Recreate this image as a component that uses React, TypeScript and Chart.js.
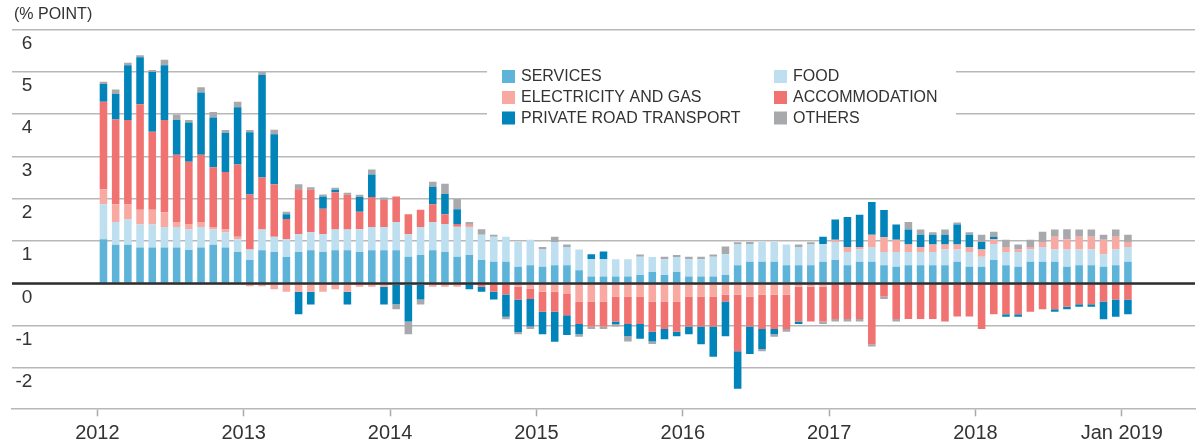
import React, { useEffect, useRef } from 'react';
import { Chart, registerables } from 'chart.js';

Chart.register(...registerables);

const FONT = "'Liberation Sans', Arial, sans-serif";
const TEXT = '#333333';

// Year tick labels (one per January) and y-axis tick values
const yearLabels = ['2012', '2013', '2014', '2015', '2016', '2017', '2018', 'Jan 2019'];
const yTickValues = [-2, -1, 0, 1, 2, 3, 4, 5, 6];

// Months: Jan 2012 .. Jan 2019 (85 bars)
const months: string[] = [];
['2012', '2013', '2014', '2015', '2016', '2017', '2018'].forEach((y) => {
  ['Jan', 'Feb', 'Mar', 'Apr', 'May', 'Jun', 'Jul', 'Aug', 'Sep', 'Oct', 'Nov', 'Dec'].forEach((m) => months.push(m + ' ' + y));
});
months.push('Jan 2019');

const services = [
  1.04, 0.91, 0.91, 0.85, 0.85, 0.85, 0.85, 0.79, 0.85, 0.91, 0.85, 0.74,
  0.55, 0.78, 0.74, 0.62, 0.74, 0.78, 0.74, 0.78, 0.78, 0.74, 0.78, 0.78,
  0.78, 0.63, 0.67, 0.78, 0.74, 0.63, 0.67, 0.55, 0.51, 0.51, 0.39, 0.43,
  0.39, 0.43, 0.43, 0.31, 0.16, 0.16, 0.16, 0.16, 0.20, 0.27, 0.20, 0.27,
  0.16, 0.16, 0.16, 0.20, 0.43, 0.51, 0.51, 0.51, 0.43, 0.43, 0.43, 0.51,
  0.55, 0.43, 0.51, 0.51, 0.43, 0.39, 0.43, 0.43, 0.43, 0.43, 0.51, 0.39,
  0.39, 0.55, 0.43, 0.39, 0.51, 0.51, 0.51, 0.39, 0.43, 0.43, 0.39, 0.43,
  0.51,
];
const food = [
  0.83, 0.54, 0.60, 0.54, 0.54, 0.48, 0.48, 0.49, 0.48, 0.37, 0.36, 0.30,
  0.25, 0.49, 0.36, 0.42, 0.42, 0.43, 0.42, 0.49, 0.49, 0.54, 0.55, 0.55,
  0.67, 0.53, 0.66, 0.67, 0.66, 0.71, 0.66, 0.60, 0.59, 0.59, 0.59, 0.60,
  0.41, 0.55, 0.43, 0.49, 0.41, 0.41, 0.41, 0.41, 0.43, 0.35, 0.37, 0.35,
  0.41, 0.41, 0.47, 0.49, 0.49, 0.42, 0.47, 0.47, 0.49, 0.43, 0.49, 0.42,
  0.43, 0.31, 0.29, 0.35, 0.31, 0.35, 0.31, 0.31, 0.31, 0.37, 0.29, 0.35,
  0.24, 0.38, 0.31, 0.35, 0.29, 0.35, 0.29, 0.41, 0.37, 0.37, 0.29, 0.37,
  0.35,
];
const electricityGas = [
  0.35, 0.42, 0.35, 0.35, 0.35, 0.35, 0.12, 0.12, 0.12, 0.05, 0.06, 0.06,
  -0.07, -0.07, -0.14, -0.20, -0.20, -0.20, -0.20, -0.14, -0.20, -0.08, -0.08, -0.08,
  -0.04, -0.04, -0.04, -0.08, -0.08, -0.08, 0.03, 0, 0, 0, -0.08, -0.12,
  -0.20, -0.20, -0.25, -0.43, -0.43, -0.43, -0.31, -0.31, -0.31, -0.43, -0.43, -0.43,
  -0.31, -0.31, -0.31, -0.27, -0.27, -0.31, -0.27, -0.27, -0.27, -0.08, -0.08, -0.08,
  0.05, 0.12, 0.06, 0.29, 0.35, 0.29, 0.18, 0.12, 0.18, 0.12, 0.12, 0.12,
  0.17, 0.11, 0.12, 0.06, 0.06, 0.12, 0.30, 0.24, 0.30, 0.30, 0.35, 0.30,
  0.12,
];
const accommodation = [
  2.07, 2.00, 2.00, 2.49, 1.84, 2.18, 1.59, 1.47, 1.59, 1.41, 1.36, 1.71,
  1.30, 1.23, 1.24, 0.48, 1.06, 1.00, 0.60, 0.88, 0.82, 0.41, 0.71, 0.64,
  0.60, 0.47, 0.41, 0.42, 0.23, 0.06, 0.03, -0.08, -0.20, -0.26, -0.30, -0.25,
  -0.47, -0.47, -0.50, -0.53, -0.59, -0.59, -0.59, -0.65, -0.65, -0.71, -0.65, -0.71,
  -0.71, -0.71, -0.71, -0.16, -1.33, -0.71, -0.81, -0.81, -0.81, -0.82, -0.82, -0.82,
  -0.84, -0.84, -0.84, -1.44, -0.31, -0.84, -0.84, -0.84, -0.84, -0.90, -0.78, -0.78,
  -1.08, -0.73, -0.73, -0.73, -0.67, -0.61, -0.61, -0.55, -0.49, -0.49, -0.43, -0.38,
  -0.38,
];
const privateRoadTransport = [
  0.42, 0.60, 1.29, 1.11, 1.41, 1.29, 0.82, 0.93, 1.47, 1.18, 0.93, 1.35,
  1.47, 2.42, 1.18, 0.11, -0.53, -0.30, 0.29, 0.06, -0.30, 0.35, 0.53, -0.42,
  -0.45, -0.86, -0.34, 0.41, 0.48, 0.35, -0.14, -0.12, -0.18, -0.53, -0.77, -0.65,
  -0.53, -0.71, -0.47, -0.24, 0.12, 0.18, -0.06, -0.29, -0.35, -0.23, -0.24, -0.11,
  -0.18, -0.42, -0.71, -0.82, -0.89, -0.65, -0.47, -0.12, 0, -0.06, 0, 0.17,
  0.48, 0.71, 0.76, 0.77, 0.64, 0.36, 0.35, 0.29, 0.23, 0.23, 0.47, 0.29,
  0.18, 0.06, -0.06, -0.06, 0, 0, -0.06, -0.06, -0.06, -0.06, -0.42, -0.41,
  -0.35,
];
const others = [
  0.05, 0.11, 0.06, 0.05, 0.05, 0.13, 0.13, 0.06, 0.12, 0.13, 0.06, 0.13,
  0.05, 0.07, 0.11, 0.06, 0.12, 0.06, 0.05, 0.05, 0.05, 0.05, 0.12, 0.06,
  -0.12, -0.30, -0.12, 0.12, 0.24, 0.24, 0.06, 0.13, 0.05, -0.06, -0.05, -0.06,
  0.06, 0.12, 0.06, -0.06, -0.06, -0.06, -0.06, -0.12, 0.05, -0.06, 0.06, 0.05,
  0.06, 0.06, 0.05, 0.18, 0.05, 0.05, -0.05, -0.06, -0.06, 0.06, 0.05, -0.06,
  -0.06, -0.06, -0.06, -0.05, -0.06, -0.06, 0.18, 0.12, 0.06, 0.12, 0.05, 0.06,
  0.17, 0.12, 0.17, 0.12, 0.17, 0.24, 0.17, 0.24, 0.17, 0.17, 0.12, 0.17,
  0.17,
];

const seriesNames = ['SERVICES', 'FOOD', 'ELECTRICITY AND GAS', 'ACCOMMODATION', 'PRIVATE ROAD TRANSPORT', 'OTHERS'];
const seriesColors = ['#5eb3d9', '#bddff0', '#f8aaa2', '#f07271', '#0084b9', '#a8a9ac'];
const seriesValues = [services, food, electricityGas, accommodation, privateRoadTransport, others];

const overlayPlugin = {
  id: 'overlay',
  afterDatasetsDraw(chart: any) {
    const { ctx, chartArea, scales } = chart;
    const y0 = scales.y.getPixelForValue(0);
    ctx.save();
    ctx.strokeStyle = '#2e2e2e';
    ctx.lineWidth = 2.5;
    ctx.beginPath();
    ctx.moveTo(chartArea.left, y0);
    ctx.lineTo(chartArea.right, y0);
    ctx.stroke();
    ctx.restore();
  },
  afterDraw(chart: any) {
    const { ctx } = chart;
    ctx.save();
    // title
    ctx.fillStyle = TEXT;
    ctx.font = `16px ${FONT}`;
    ctx.textBaseline = 'middle';
    ctx.textAlign = 'left';
    ctx.fillText('(% POINT)', 14, 15);
    // legend box
    ctx.fillStyle = '#ffffff';
    ctx.fillRect(487, 62, 469, 66);
    const cols = [502, 774];
    const rows = [76.5, 97.5, 118];
    chart.data.datasets.forEach((ds: any, k: number) => {
      const cx = cols[k % 2];
      const cy = rows[Math.floor(k / 2)];
      ctx.fillStyle = ds.backgroundColor;
      ctx.fillRect(cx, cy - 6.5, 13, 13);
      ctx.fillStyle = TEXT;
      ctx.font = `16px ${FONT}`;
      ctx.fillText(ds.label, cx + 19, cy + 0.5);
    });
    ctx.restore();
  },
};

export default function App() {
  const ref = useRef<HTMLCanvasElement>(null);
  useEffect(() => {
    if (!ref.current) return;
    const datasets = seriesNames.map((name, k) => ({
      label: name,
      backgroundColor: seriesColors[k],
      borderWidth: 0,
      data: seriesValues[k].map((v, i) => ({ x: months.indexOf(months[i]) + 0.5, y: v })),
      categoryPercentage: 1,
      barPercentage: 0.62,
    }));
    const chart = new Chart(ref.current, {
      type: 'bar',
      data: { datasets } as any,
      options: {
        animation: false,
        responsive: false,
        devicePixelRatio: 1,
        layout: { padding: { top: 29.3, left: 12, right: 4, bottom: 0 } },
        plugins: { legend: { display: false }, tooltip: { enabled: false }, title: { display: false } },
        scales: {
          x: {
            type: 'linear',
            stacked: true,
            offset: false,
            min: -7,
            max: 90,
            afterBuildTicks: (scale: any) => {
              scale.ticks = yearLabels.map((_, k) => ({ value: k * 12 }));
            },
            afterFit: (scale: any) => {
              scale.height = 35.7;
            },
            grid: {
              display: true,
              offset: false,
              drawOnChartArea: false,
              drawTicks: true,
              tickLength: 8,
              tickColor: '#a8a8a8',
              tickWidth: 1.5,
            },
            border: { display: true, color: '#b8b8b8', width: 1.5 },
            ticks: {
              autoSkip: false,
              maxRotation: 0,
              padding: 5,
              color: TEXT,
              font: { family: FONT, size: 20 },
              callback: (_v: any, idx: number) => yearLabels[idx],
            },
          },
          y: {
            stacked: true,
            min: -2.95,
            max: 6,
            afterBuildTicks: (scale: any) => {
              scale.ticks = yTickValues.map((v) => ({ value: v }));
            },
            afterFit: (scale: any) => {
              scale.width = 0;
            },
            grid: { color: '#b8b8b8', lineWidth: 1.5, drawTicks: false },
            border: { display: false },
            ticks: {
              mirror: true,
              crossAlign: 'far',
              padding: 3.5,
              labelOffset: 14,
              color: TEXT,
              font: { family: FONT, size: 19 },
            },
          },
        },
      },
      plugins: [overlayPlugin],
    } as any);
    return () => chart.destroy();
  }, []);
  return (
    <div style={{ position: 'fixed', left: 0, top: 0, width: 1199, height: 444, background: '#fff' }}>
      <canvas ref={ref} width={1199} height={444} style={{ display: 'block', width: 1199, height: 444 }} />
    </div>
  );
}
